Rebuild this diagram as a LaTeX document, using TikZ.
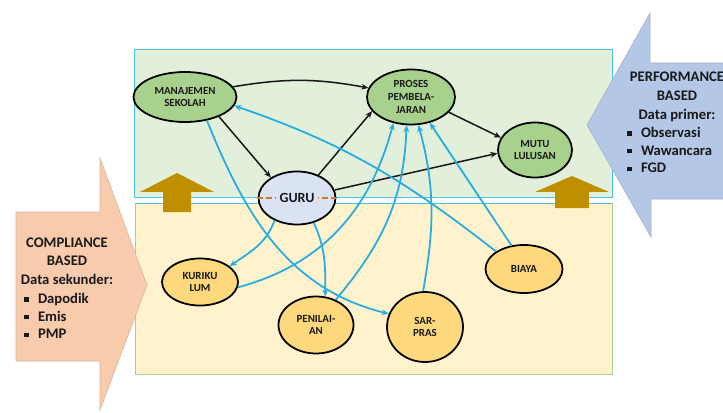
\documentclass[tikz,border=0pt]{standalone}
\usepackage{fontspec}
\setmainfont{Carlito}
\usepackage{tikz}
\usetikzlibrary{shapes.geometric, arrows.meta, positioning}
\usepackage{xcolor}

\definecolor{panelgreen}{HTML}{E2EFDA}
\definecolor{panelyellow}{HTML}{FFF2CC}
\definecolor{panelcyan}{HTML}{4BC4E4}
\definecolor{panelline}{HTML}{A9D18E}
\definecolor{nodegreen}{HTML}{A9D18E}
\definecolor{nodeyellow}{HTML}{FDD87C}
\definecolor{nodeblue}{HTML}{DAE3F3}
\definecolor{linkblue}{HTML}{25ACE2}
\definecolor{liftbrown}{HTML}{BF8F00}
\definecolor{compsalmon}{HTML}{F8CBAD}
\definecolor{perfblue}{HTML}{B4C7E7}
\definecolor{dashorange}{HTML}{D0782F}
\newcommand{\sqbullet}{\rule[0.12em]{0.3em}{0.3em}}

\begin{document}
\begin{tikzpicture}[x=0.03cm, y=0.03cm,
    panel/.style = {line width=0.6pt},
    bigarrow/.style = {line width=0.5pt},
    lift/.style = {fill=liftbrown, draw=none},
    factor/.style = {ellipse, draw=black, line width=1.5pt, inner sep=0pt, align=center, text=black!90, font=\fontsize{9.3}{11}\selectfont\bfseries},
    corefactor/.style = {factor, fill=nodegreen},
    inputfactor/.style = {factor, fill=nodeyellow},
    gurufactor/.style = {factor, fill=nodeblue, font=\fontsize{12}{14}\selectfont\bfseries},
    flow/.style = {draw=black!90, line width=1.3pt, -{Stealth[length=6pt,width=5pt]}},
    link/.style = {draw=linkblue, line width=1.5pt, -{Stealth[length=6pt,width=5pt]}},
    gurudash/.style = {draw=dashorange, line width=1.6pt, dash pattern=on 5pt off 2.5pt},
    sidetitle/.style = {align=center, inner sep=0pt, text=black!90, font=\fontsize{12.5}{16}\selectfont\bfseries},
    sidelist/.style = {align=left, inner sep=0pt, text=black!90, font=\fontsize{12.5}{15.2}\selectfont\bfseries}
]
\useasboundingbox (0,0) rectangle (723,412);
\clip (0,0) rectangle (723,412);

% Panels
\draw[panel, fill=panelgreen, draw=panelcyan] (134,215) rectangle (612,363);
\draw[panel, fill=panelyellow, draw=panelline] (135,38) rectangle (612,209);
\draw[panel, draw=panelcyan] (135,209) -- (612,209);

% Lift arrows
\fill[lift] (163,200) -- (163,220) -- (140,220) -- (177,239) -- (214,220) -- (191,220) -- (191,200) -- cycle;
\fill[lift] (555,204) -- (555,220) -- (535,220) -- (572,236) -- (609,220) -- (589,220) -- (589,204) -- cycle;

% Side arrows
\draw[bigarrow, fill=compsalmon, draw=compsalmon!70!gray] (16,200) -- (100,200) -- (100,254) -- (147,127) -- (100,2) -- (100,51) -- (16,51) -- cycle;
\draw[bigarrow, fill=perfblue, draw=perfblue!70!gray] (730,349) -- (650,349) -- (650,399) -- (587,287) -- (651,175) -- (651,213) -- (730,213) -- cycle;

\node (complytitle) [sidetitle, at={(67,151)}] {COMPLIANCE\\BASED\\Data sekunder:};
\node (complylist) [sidelist, anchor=west, at={(24,96)}] {\sqbullet\hspace{8pt}Dapodik\\\sqbullet\hspace{8pt}Emis\\\sqbullet\hspace{8pt}PMP};
\node (perftitle) [sidetitle, at={(677,315)}] {PERFORMANCE\\BASED\\Data primer:};
\node (perflist) [sidelist, anchor=west, at={(627,262)}] {\sqbullet\hspace{8pt}Observasi\\\sqbullet\hspace{8pt}Wawancara\\\sqbullet\hspace{8pt}FGD};

% Factors
\node (manajemen) [corefactor, minimum width=3.09cm, minimum height=1.5cm, at={(185,315)}] {MANAJEMEN\\SEKOLAH};
\node (proses) [corefactor, minimum width=2.64cm, minimum height=1.65cm, at={(411,315)}] {PROSES\\PEMBELA-\\JARAN};
\node (mutu) [corefactor, minimum width=2.22cm, minimum height=1.65cm, at={(535,262)}] {MUTU\\LULUSAN};
\node (guru) [gurufactor, minimum width=2.31cm, minimum height=1.59cm, at={(297,214)}] {GURU};
\node (kurikulum) [inputfactor, minimum width=2.28cm, minimum height=1.41cm, at={(200,130)}] {KURIKU\\LUM};
\node (penilaian) [inputfactor, minimum width=2.25cm, minimum height=1.71cm, at={(316,87)}] {PENILAI-\\AN};
\node (sarpras) [inputfactor, minimum width=2.28cm, minimum height=2.1cm, at={(425,85)}] {SAR-\\PRAS};
\node (biaya) [inputfactor, minimum width=2.31cm, minimum height=1.44cm, at={(524,143)}] {BIAYA};

\draw[gurudash] (guru.west) -- +(18,0);
\draw[gurudash] (guru.east) -- +(-18,0);

% Black flows
\draw[flow] (manajemen.12) to[bend left=10] (proses.168);
\draw[flow] (manajemen.-30) -- (guru.142);
\draw[flow] (guru.47) -- (proses.-160);
\draw[flow] (proses.-22) -- (mutu.160);
\draw[flow] (guru.12) -- (mutu.185);

% Blue links
\draw[link] (manajemen.-47) to[out=-68, in=166] (sarpras.160);
\draw[link, {Stealth[length=6pt,width=5pt]}-] (manajemen.-10) to[out=-19, in=142] (biaya.148);
\draw[link] (guru.-135) to[out=-110, in=35] (kurikulum.28);
\draw[link] (guru.-56) to[out=-65, in=90] (penilaian.72);
\draw[link] (kurikulum.-8) to[out=15, in=-105] (proses.-124);
\draw[link] (penilaian.52) to[out=50, in=-92] (proses.-99);
\draw[link] (sarpras.93) to[out=80, in=-75] (proses.-75);
\draw[link] (biaya.118) -- (proses.-54);

\end{tikzpicture}
\end{document}
